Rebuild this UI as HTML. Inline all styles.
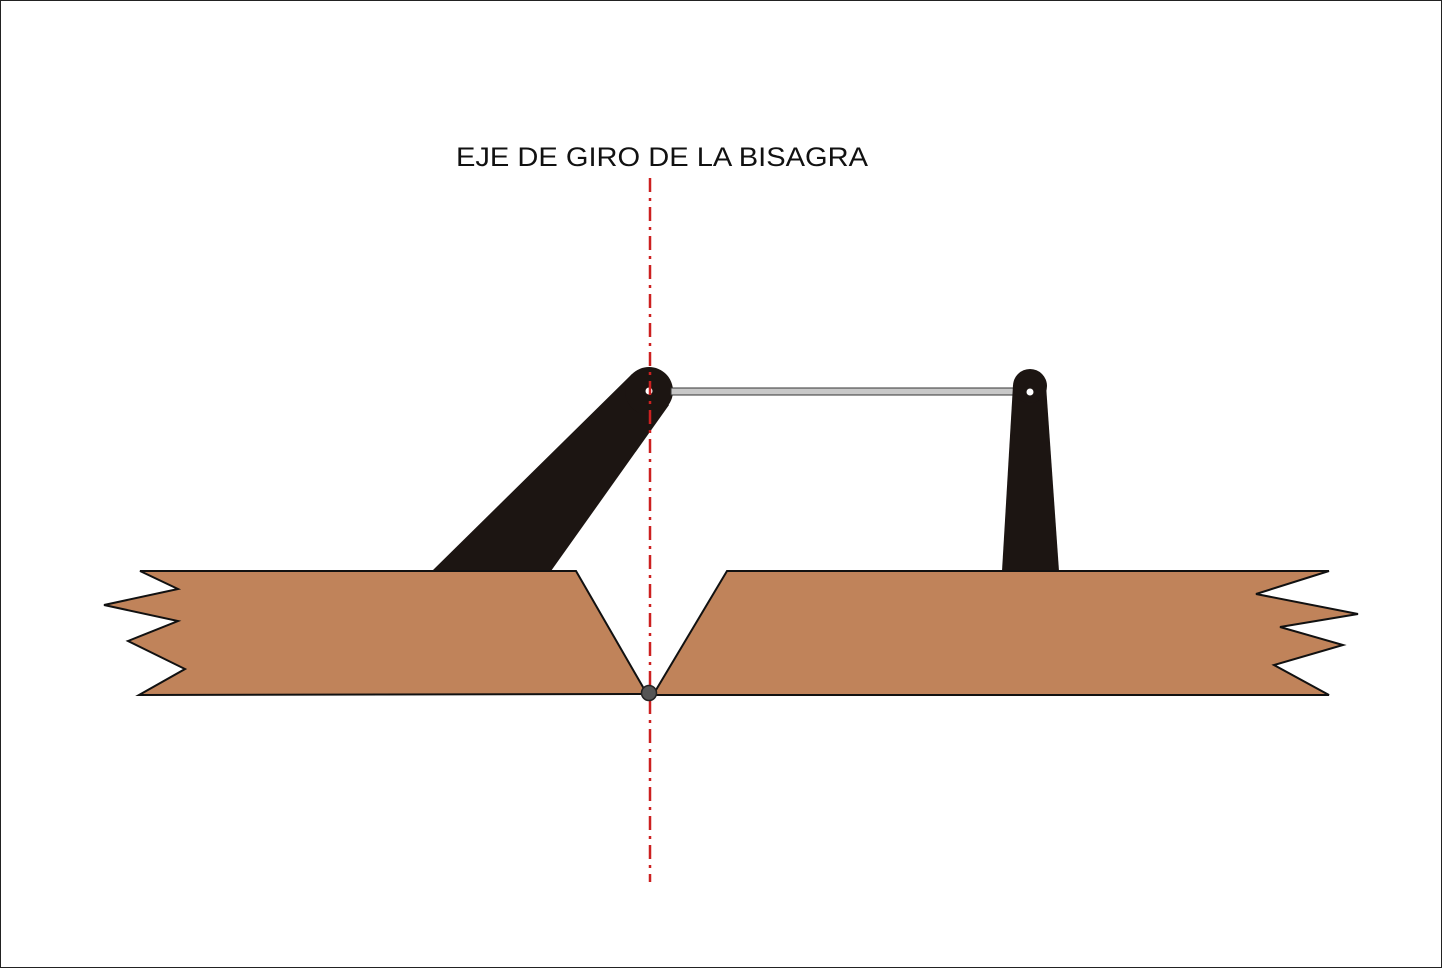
<!DOCTYPE html>
<html><head><meta charset="utf-8"><style>
html,body{margin:0;padding:0;background:#fff;}
svg{display:block;}
</style></head><body>
<svg width="1442" height="968" viewBox="0 0 1442 968" xmlns="http://www.w3.org/2000/svg">
<rect x="0.5" y="0.5" width="1441" height="967" fill="#fff" stroke="#222" stroke-width="1"/>
<text x="456" y="166" font-family="Liberation Sans, sans-serif" font-size="27" fill="#111" textLength="412" lengthAdjust="spacingAndGlyphs">EJE DE GIRO DE LA BISAGRA</text>
<!-- left arm -->
<polygon points="432,571 551,571 669,405 632,374" fill="#1c1512"/>
<circle cx="649" cy="391" r="24" fill="#1c1512"/>
<!-- rod -->
<rect x="671" y="388" width="344" height="7" fill="#c8c8c8" stroke="#333" stroke-width="1"/>
<!-- right post -->
<polygon points="1002,571 1059,571 1046,385 1013,385" fill="#1c1512"/>
<circle cx="1030" cy="386" r="17" fill="#1c1512"/>
<circle cx="1030" cy="392" r="3.5" fill="#fff"/>
<circle cx="649" cy="391" r="3.5" fill="#fff"/>
<!-- boards -->
<polygon points="140,571 576,571 647,694 139,695 185,669 128,641 178,621 104,605 178,589" fill="#c0835a" stroke="#111" stroke-width="2" stroke-linejoin="miter"/>
<polygon points="727,571 1329,571 1256,594 1358,614 1280,627 1343,645 1274,665 1329,695 653,695" fill="#c0835a" stroke="#111" stroke-width="2"/>
<!-- axis -->
<line x1="650" y1="178" x2="650" y2="882" stroke="#cc2020" stroke-width="2.5" stroke-dasharray="14,6,3,6"/>
<circle cx="649" cy="693" r="7.5" fill="#555" stroke="#222" stroke-width="1.5"/>
</svg>
</body></html>
